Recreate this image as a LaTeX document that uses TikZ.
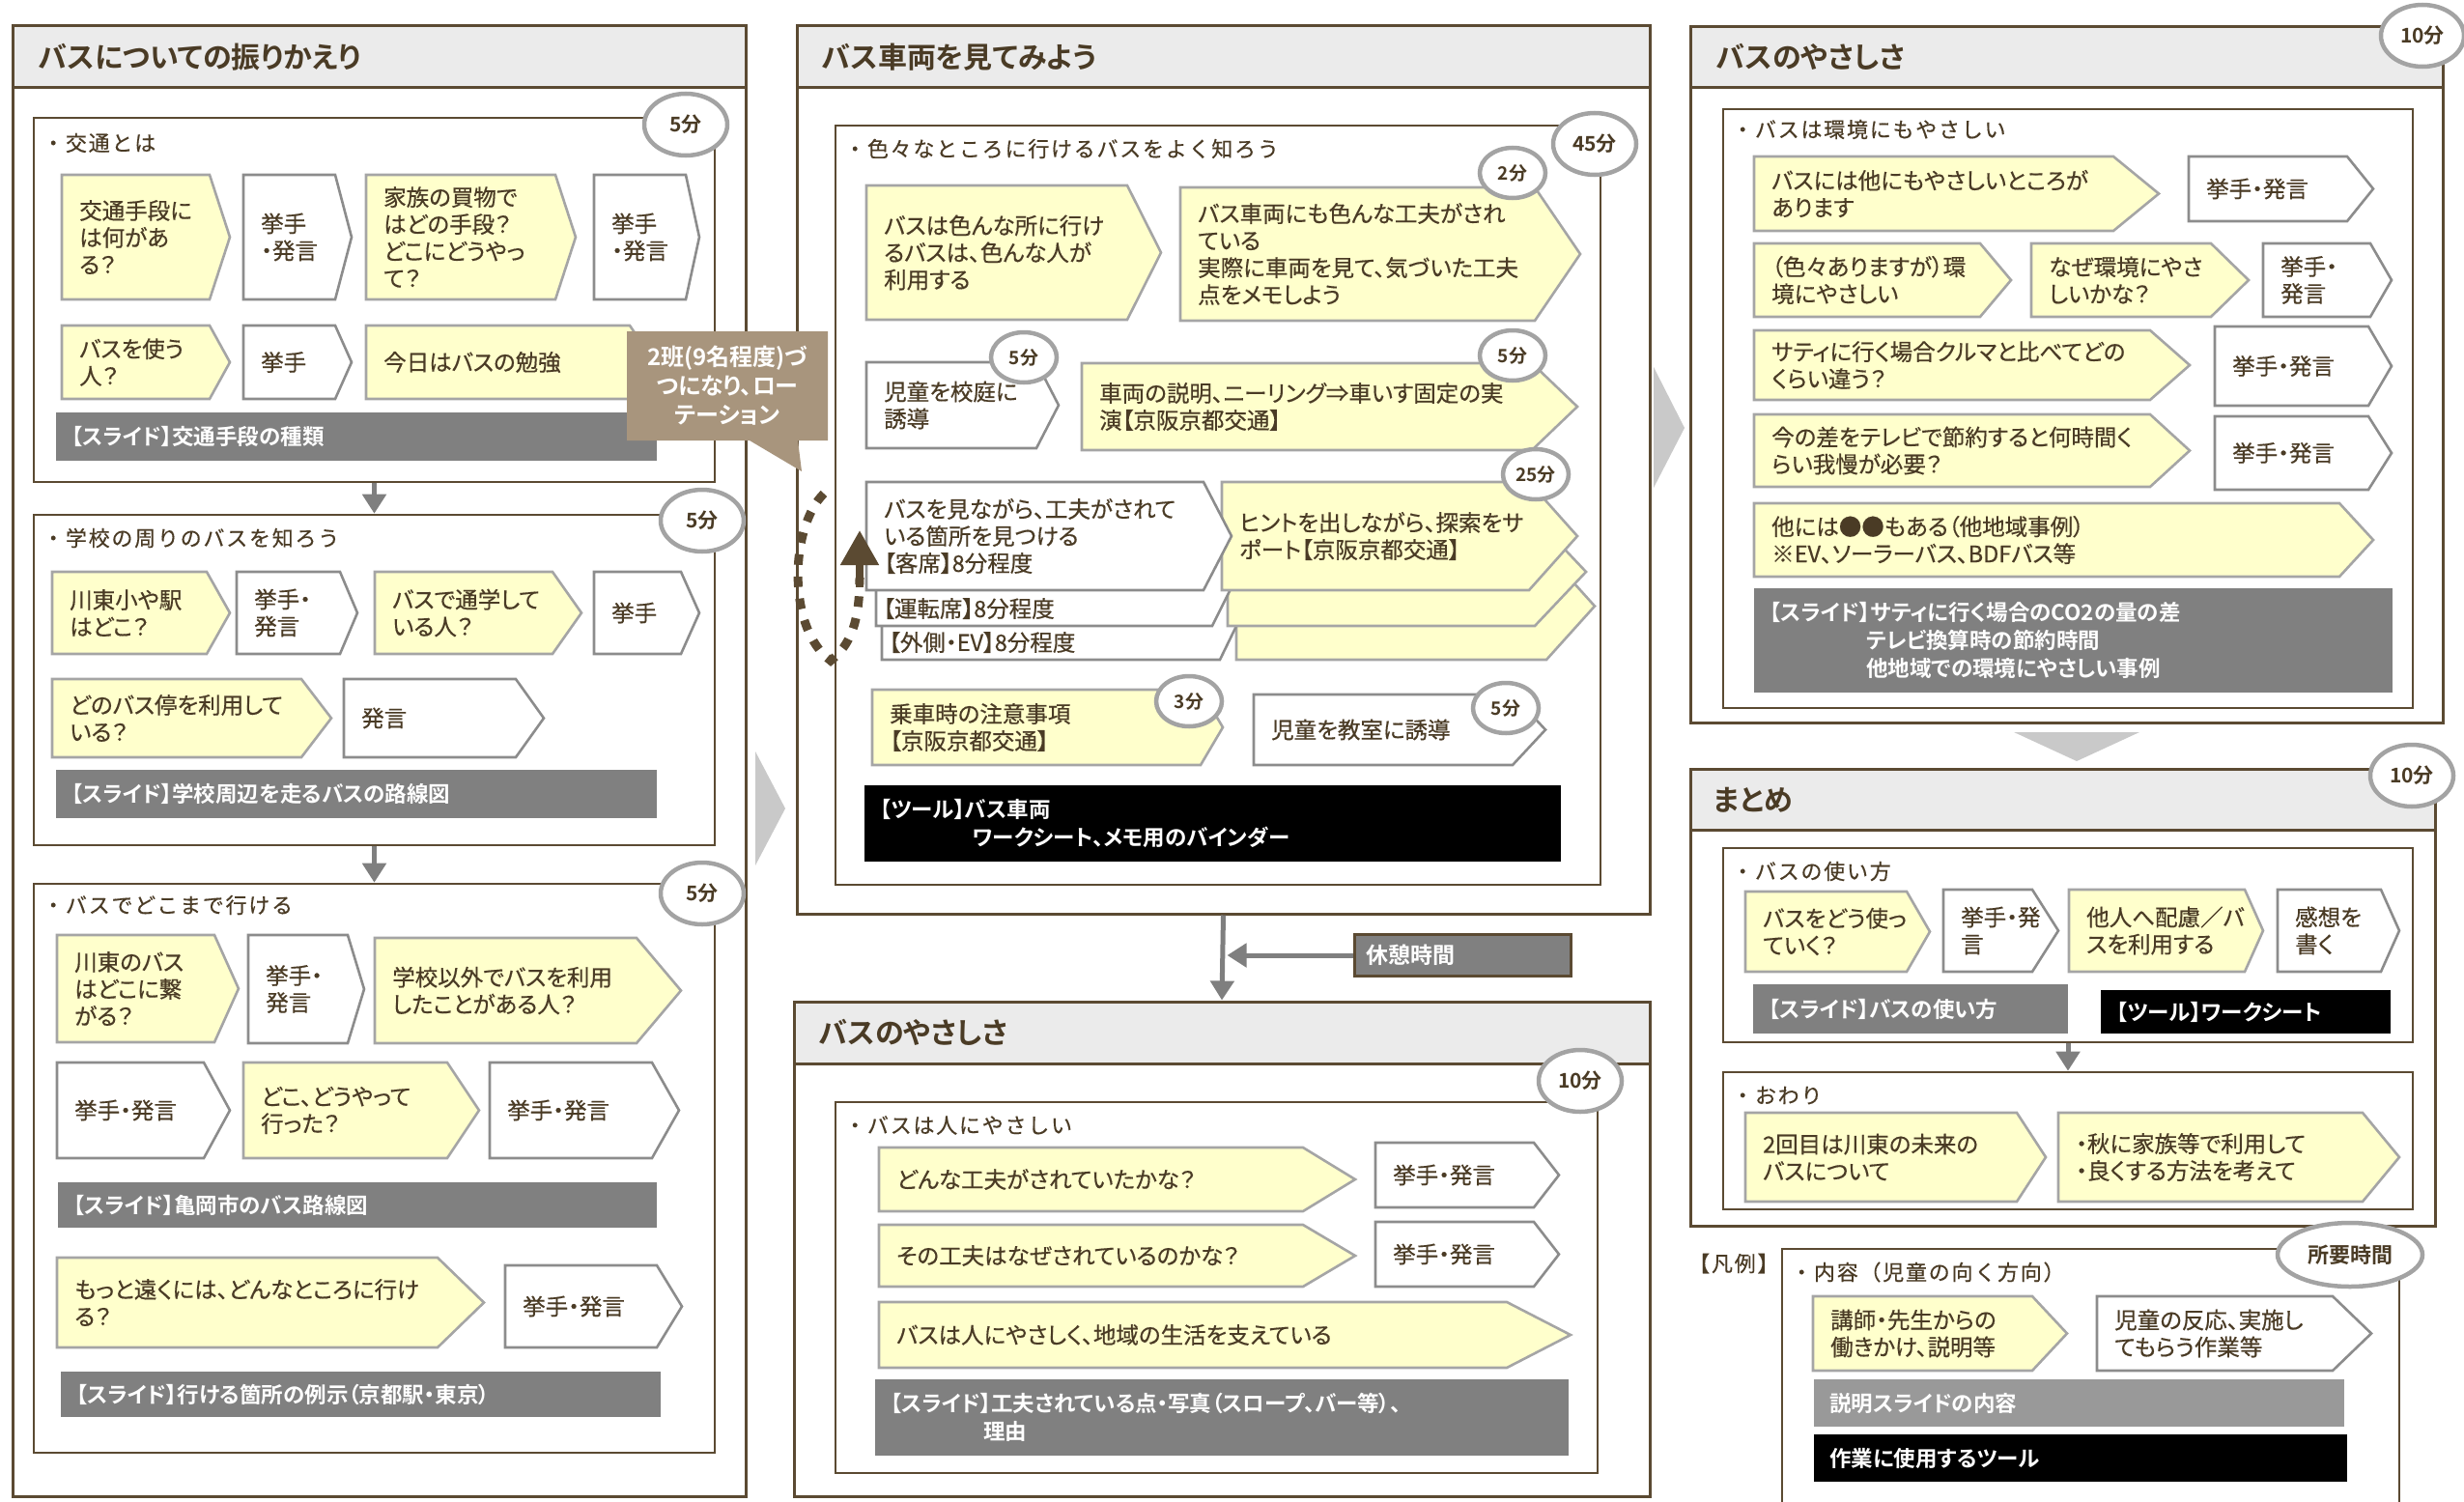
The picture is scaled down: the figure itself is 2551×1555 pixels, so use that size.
\documentclass[tikz,border=0pt]{standalone}
\usepackage{fontspec}
\newfontfamily\jp[RawFeature={+palt},FakeBold=0.5]{Noto Sans CJK JP}
\newfontfamily\jpb[RawFeature={+palt}]{Noto Sans CJK JP Bold}
\newfontfamily\jpw[LetterSpace=8,FakeBold=0.4]{Noto Sans CJK JP}
\usetikzlibrary{shapes.geometric,arrows.meta,fit}
\definecolor{brn}{HTML}{5B4A32}
\definecolor{txtc}{HTML}{4A3B25}
\definecolor{yel}{HTML}{FFFFCC}
\definecolor{ycb}{HTML}{A5A5A5}
\definecolor{wcb}{HTML}{8C8C8C}
\definecolor{hdr}{HTML}{EBEBEB}
\definecolor{slidec}{HTML}{808080}
\definecolor{legc}{HTML}{999999}
\definecolor{callc}{HTML}{A8957D}
\definecolor{circb}{HTML}{A3A3A3}
\definecolor{trig}{HTML}{C9C9C9}
\definecolor{arrg}{HTML}{7F7F7F}
\newcommand\chev[8]{%
  \draw[#2] (#3,#4) -- (#5,#4) -- (#7,{(#4+#6)/2}) -- (#5,#6) -- (#3,#6) -- cycle;
  \node[tx] (#1) at ({#3+18},{(#4+#6)/2}) {#8};}
\newcommand\rectbar[7]{%
  \fill[#2] (#3,#4) rectangle (#5,#6);
  \node[btx] (#1) at ({#3+16},{(#4+#6)/2}) {#7};}
\begin{document}
\begin{tikzpicture}[x=1pt,y=-1pt,line join=miter,
  tx/.style={font=\jp\fontsize{23.5}{28}\selectfont, text=txtc, align=left, inner sep=0pt, anchor=west},
  btx/.style={font=\jpb\fontsize{22.5}{29}\selectfont, text=white, align=left, inner sep=0pt, anchor=west},
  ttl/.style={font=\jpb\fontsize{30}{34}\selectfont, text=txtc, inner sep=0pt, anchor=west},
  sub/.style={font=\jpw\fontsize{22}{26}\selectfont, text=txtc, inner sep=0pt, anchor=west},
  panel/.style={draw=brn, line width=3pt, inner sep=0pt},
  ibox/.style={draw=brn, line width=2.6pt, inner sep=0pt},
  yc/.style={fill=yel, draw=ycb, line width=2.6pt},
  wc/.style={fill=white, draw=wcb, line width=2.6pt},
  tc/.style={ellipse, draw=circb, line width=4.5pt, fill=white, inner sep=0pt, minimum width=86pt, minimum height=64pt, font=\jpb\fontsize{21}{24}\selectfont, text=txtc},
  tcs/.style={tc, minimum width=68pt, minimum height=52pt, font=\jpb\fontsize{19}{22}\selectfont},
  garrow/.style={draw=arrg, line width=5pt, -{Triangle[length=20pt,width=24pt]}},
  pline/.style={draw=brn, line width=3pt}]
\useasboundingbox (0,0) rectangle (2551,1555);
\fill[white] (0,0) rectangle (2551,1555);

% ================= Panel 1 =================
\fill[hdr] (13,27) rectangle (772,90);
\node[panel, fit={(13,27) (772,1549)}] (p1) {};
\draw[pline] (13,90) -- (772,90);
\node[ttl] (t1) at (40,59) {バスについての振りかえり};

\node[ibox, fit={(35,122) (740,499)}] (k1) {};
\node[sub] (s1) at (44,148) {・交通とは};
\chev{a1}{yc}{64}{181}{217}{310}{238}{交通手段に\\は何があ\\る？}
\chev{a2}{wc}{252}{181}{347}{310}{364}{挙手\\・発言}
\chev{a3}{yc}{379}{181}{575}{310}{596}{家族の買物で\\はどの手段？\\どこにどうやっ\\て？}
\chev{a4}{wc}{615}{181}{710}{310}{724}{挙手\\・発言}
\chev{b1}{yc}{64}{337}{217}{413}{238}{バスを使う\\人？}
\chev{b2}{wc}{252}{337}{347}{413}{364}{挙手}
\chev{b3}{yc}{379}{337}{652}{413}{678}{今日はバスの勉強}
\rectbar{sl1}{slidec}{58}{427}{680}{477}{【スライド】交通手段の種類}
\node[tc] (c1) at (710,129) {5分};

\node[ibox, fit={(35,533) (740,875)}] (k2) {};
\node[sub] (s2) at (44,557) {・学校の周りのバスを知ろう};
\chev{d1}{yc}{54}{592}{214}{677}{238}{川東小や駅\\はどこ？}
\chev{d2}{wc}{245}{592}{352}{677}{370}{挙手・\\発言}
\chev{d3}{yc}{388}{592}{572}{677}{602}{バスで通学して\\いる人？}
\chev{d4}{wc}{615}{592}{705}{677}{724}{挙手}
\chev{e1}{yc}{54}{703}{312}{784}{343}{どのバス停を利用して\\いる？}
\chev{e2}{wc}{356}{703}{534}{784}{563}{発言}
\rectbar{sl2}{slidec}{58}{797}{680}{847}{【スライド】学校周辺を走るバスの路線図}
\node[tc] (c2) at (727,539) {5分};

\node[ibox, fit={(35,915) (740,1504)}] (k3) {};
\node[sub] (s3) at (44,937) {・バスでどこまで行ける};
\chev{f1}{yc}{59}{968}{222}{1079}{247}{川東のバス\\はどこに繋\\がる？}
\chev{f2}{wc}{257}{968}{360}{1080}{377}{挙手・\\発言}
\chev{f3}{yc}{388}{971}{659}{1080}{705}{学校以外でバスを利用\\したことがある人？}
\chev{g1}{wc}{59}{1100}{211}{1199}{238}{挙手・発言}
\chev{g2}{yc}{252}{1100}{463}{1199}{496}{どこ、どうやって\\行った？}
\chev{g3}{wc}{507}{1100}{675}{1199}{703}{挙手・発言}
\rectbar{sl3}{slidec}{60}{1224}{680}{1271}{【スライド】亀岡市のバス路線図}
\chev{h1}{yc}{59}{1302}{453}{1395}{501}{もっと遠くには、どんなところに行け\\る？}
\chev{h2}{wc}{523}{1310}{680}{1395}{706}{挙手・発言}
\rectbar{sl4}{slidec}{63}{1420}{684}{1467}{【スライド】行ける箇所の例示（京都駅・東京）}
\node[tc] (c3) at (727,925) {5分};

\draw[garrow] (k1.south) -- (k2.north);
\draw[garrow] (k2.south) -- (k3.north);

% big flow triangles
\fill[trig] (782,778) -- (813,837) -- (782,896) -- cycle;
\fill[trig] (1712,380) -- (1744,443) -- (1712,505) -- cycle;
\fill[trig] (2085,758) -- (2215,758) -- (2150,788) -- cycle;

% ================= Panel 2 =================
\fill[hdr] (825,27) rectangle (1708,90);
\node[panel, fit={(825,27) (1708,946)}] (p2) {};
\draw[pline] (825,90) -- (1708,90);
\node[ttl] (t2) at (851,59) {バス車両を見てみよう};

\node[ibox, fit={(865,130) (1657,916)}] (k4) {};
\node[sub] (s4) at (874,154) {・色々なところに行けるバスをよく知ろう};
\chev{m1}{yc}{897}{192}{1167}{331}{1202}{バスは色んな所に行け\\るバスは、色んな人が\\利用する}
\chev{m2}{yc}{1222}{194}{1589}{332}{1636}{バス車両にも色んな工夫がされ\\ている\\実際に車両を見て、気づいた工夫\\点をメモしよう}
\chev{n1}{wc}{897}{375}{1073}{464}{1096}{児童を校庭に\\誘導}
\chev{n2}{yc}{1120}{376}{1586}{466}{1633}{車両の説明、ニーリング⇒車いす固定の実\\演【京阪京都交通】}
% stacked
\chev{y3}{yc}{1280}{572}{1601}{683}{1651}{}
\chev{w3}{wc}{913}{572}{1263}{683}{1290}{}
\chev{y2}{yc}{1271}{536}{1589}{648}{1642}{}
\chev{w2}{wc}{907}{536}{1255}{648}{1283}{}
\chev{y1}{yc}{1265}{499}{1583}{611}{1633}{ヒントを出しながら、探索をサ\\ポート【京阪京都交通】}
\chev{w1}{wc}{897}{499}{1246}{611}{1275}{バスを見ながら、工夫がされて\\いる箇所を見つける\\【客席】8分程度}
\node[tx] (w2t) at (914,630) {【運転席】8分程度};
\node[tx] (w3t) at (920,665) {【外側・EV】8分程度};
\chev{q1}{yc}{903}{714}{1243}{792}{1266}{乗車時の注意事項\\【京阪京都交通】}
\chev{q2}{wc}{1298}{719}{1566}{792}{1600}{児童を教室に誘導}
\rectbar{tl1}{black}{895}{813}{1616}{892}{【ツール】バス車両\\\hspace*{96pt}ワークシート、メモ用のバインダー}
\node[tc] (c4) at (1651,149) {45分};
\node[tcs] (c5) at (1566,179) {2分};
\node[tcs] (c6) at (1060,370) {5分};
\node[tcs] (c7) at (1566,368) {5分};
\node[tcs] (c8) at (1590,491) {25分};
\node[tcs] (c9) at (1231,726) {3分};
\node[tcs] (c10) at (1559,733) {5分};

% dotted loop arrow
\draw[draw=brn, line width=9pt, dash pattern=on 11pt off 12pt] (853,511) .. controls (818,545) and (814,650) .. (860,684) .. controls (880,668) and (890,645) .. (890,598);
\draw[draw=brn, line width=8pt, -{Triangle[length=36pt,width=38pt]}] (890,608) -- (890,549);

% callout
\fill[callc] (649,343) -- (857,343) -- (857,456) -- (826,456) -- (830,488) -- (776,456) -- (649,456) -- cycle;
\node[font=\jpb\fontsize{24}{30}\selectfont, text=white, align=center, inner sep=0pt] (cal) at (753,399) {2班(9名程度)づ\\つになり、ロー\\テーション};

% break
\node[draw=brn, fill=slidec, line width=3pt, anchor=north west, text width=200pt, inner xsep=12pt, inner ysep=0pt, minimum height=43pt, align=left, font=\jpb\fontsize{23}{26}\selectfont, text=white] (kyu) at (1401,966) {休憩時間};

% ================= Panel 4 =================
\fill[hdr] (822,1037) rectangle (1708,1101);
\node[panel, fit={(822,1037) (1708,1549)}] (p4) {};
\draw[pline] (822,1101) -- (1708,1101);
\node[ttl] (t4) at (848,1069) {バスのやさしさ};
\node[ibox, fit={(865,1141) (1654,1525)}] (k5) {};
\node[sub] (s5) at (874,1165) {・バスは人にやさしい};
\chev{r1}{yc}{910}{1188}{1349}{1254}{1403}{どんな工夫がされていたかな？}
\chev{r2}{wc}{1424}{1183}{1588}{1250}{1614}{挙手・発言}
\chev{r3}{yc}{910}{1268}{1349}{1332}{1403}{その工夫はなぜされているのかな？}
\chev{r4}{wc}{1424}{1265}{1588}{1332}{1614}{挙手・発言}
\chev{r5}{yc}{910}{1348}{1560}{1416}{1626}{バスは人にやさしく、地域の生活を支えている}
\rectbar{sl5}{slidec}{906}{1428}{1624}{1507}{【スライド】工夫されている点・写真（スロープ、バー等）、\\\hspace*{96pt}理由}
\node[tc] (c11) at (1636,1119) {10分};

\draw[garrow] (p2.south) -- (p4.north);
\draw[garrow, shorten >=4pt] (kyu.west) -- (kyu.west -| p2.south);

% ================= Panel 3 =================
\fill[hdr] (1750,28) rectangle (2529,90);
\node[panel, fit={(1750,28) (2529,748)}] (p3) {};
\draw[pline] (1750,90) -- (2529,90);
\node[ttl] (t3) at (1777,59) {バスのやさしさ};
\node[ibox, fit={(1784,113) (2498,733)}] (k6) {};
\node[sub] (s6) at (1793,134) {・バスは環境にもやさしい};
\chev{u1}{yc}{1816}{162}{2188}{239}{2235}{バスには他にもやさしいところが\\あります}
\chev{u2}{wc}{2266}{162}{2430}{229}{2457}{挙手・発言}
\chev{u3}{yc}{1816}{252}{2050}{328}{2082}{（色々ありますが）環\\境にやさしい}
\chev{u4}{yc}{2103}{252}{2289}{328}{2328}{なぜ環境にやさ\\しいかな？}
\chev{u5}{wc}{2343}{252}{2454}{328}{2476}{挙手・\\発言}
\chev{u6}{yc}{1816}{342}{2226}{414}{2267}{サティに行く場合クルマと比べてどの\\くらい違う？}
\chev{u7}{wc}{2293}{338}{2452}{420}{2476}{挙手・発言}
\chev{u8}{yc}{1816}{429}{2226}{504}{2267}{今の差をテレビで節約すると何時間く\\らい我慢が必要？}
\chev{u9}{wc}{2293}{431}{2452}{507}{2476}{挙手・発言}
\chev{u10}{yc}{1816}{521}{2422}{597}{2457}{他には●●もある（他地域事例）\\※EV、ソーラーバス、BDFバス等}
\rectbar{sl6}{slidec}{1816}{609}{2477}{717}{【スライド】サティに行く場合のCO2の量の差\\\hspace*{100pt}テレビ換算時の節約時間\\\hspace*{100pt}他地域での環境にやさしい事例}
\node[tc] (c12) at (2508,37) {10分};

% ================= Panel 5 =================
\fill[hdr] (1750,796) rectangle (2521,859);
\node[panel, fit={(1750,796) (2521,1269)}] (p5) {};
\draw[pline] (1750,859) -- (2521,859);
\node[ttl] (t5) at (1774,828) {まとめ};
\node[ibox, fit={(1784,878) (2498,1079)}] (k7) {};
\node[sub] (s7) at (1793,902) {・バスの使い方};
\chev{v1}{yc}{1807}{923}{1974}{1006}{1998}{バスをどう使っ\\ていく？}
\chev{v2}{wc}{2012}{921}{2104}{1006}{2131}{挙手・発\\言}
\chev{v3}{yc}{2142}{921}{2324}{1006}{2343}{他人へ配慮／バ\\スを利用する}
\chev{v4}{wc}{2358}{921}{2465}{1006}{2484}{感想を\\書く}
\rectbar{sl7}{slidec}{1815}{1019}{2141}{1070}{【スライド】バスの使い方}
\rectbar{tl2}{black}{2175}{1025}{2475}{1070}{【ツール】ワークシート}
\node[ibox, fit={(1784,1110) (2498,1252)}] (k8) {};
\node[sub] (s8) at (1793,1134) {・おわり};
\chev{v5}{yc}{1807}{1152}{2088}{1244}{2118}{2回目は川東の未来の\\バスについて}
\chev{v6}{yc}{2131}{1152}{2446}{1244}{2484}{・秋に家族等で利用して\\・良くする方法を考えて}
\node[tc] (c13) at (2497,803) {10分};
\draw[garrow] (k7.south) -- (k8.north);

% ================= Legend =================
\node[sub] (lg) at (1748,1308) {【凡例】};
\draw[draw=brn, line width=2.6pt] (1845,1570) -- (1845,1293) -- (2484,1293) -- (2484,1570);
\node[sub] (s9) at (1854,1317) {・内容（児童の向く方向）};
\chev{x1}{yc}{1877}{1342}{2104}{1419}{2140}{講師・先生からの\\働きかけ、説明等}
\chev{x2}{wc}{2171}{1342}{2415}{1419}{2455}{児童の反応、実施し\\てもらう作業等}
\rectbar{lg1}{legc}{1878}{1428}{2427}{1477}{説明スライドの内容}
\rectbar{lg2}{black}{1878}{1485}{2430}{1534}{作業に使用するツール}
\node[tc, minimum width=150pt, minimum height=66pt, font=\jpb\fontsize{22}{24}\selectfont] (c14) at (2433,1299) {所要時間};
\end{tikzpicture}
\end{document}
